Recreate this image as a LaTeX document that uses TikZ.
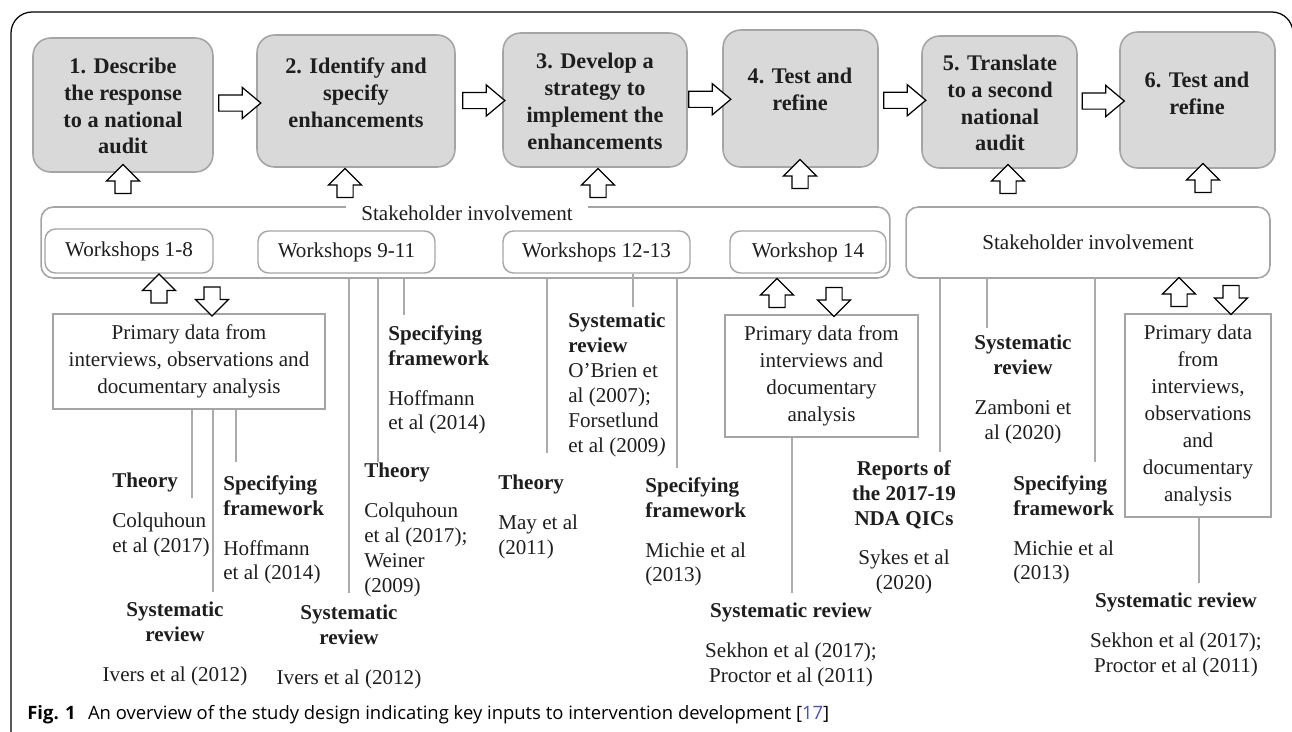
\documentclass[tikz,border=0pt]{standalone}
\usepackage{fontspec}
\setmainfont{Liberation Serif}
\newfontfamily\captionsans{Open Sans}
\usetikzlibrary{shapes.arrows,calc}

\definecolor{stepgray}{HTML}{D9D9D9}
\definecolor{edgegray}{HTML}{A5A5A5}
\definecolor{linegray}{HTML}{ABABAB}
\definecolor{ink}{HTML}{1E1E1E}
\definecolor{refblue}{HTML}{3F51D8}

\begin{document}
\begin{tikzpicture}[x=0.02cm,y=-0.02cm,
  stepbox/.style={draw=edgegray,fill=stepgray,rounded corners=10pt,line width=0.9pt},
  steptext/.style={font=\fontsize{12.7}{15.3}\selectfont\bfseries,align=center,text=ink},
  groupbox/.style={draw=edgegray,rounded corners=7pt,line width=0.9pt,fill=white,font=\fontsize{12}{14.2}\selectfont,text=ink},
  shopbox/.style={draw=edgegray,rounded corners=6pt,line width=0.8pt,fill=white,inner sep=0pt,font=\fontsize{12}{14.2}\selectfont,text=ink},
  databox/.style={draw=edgegray,line width=0.8pt,inner sep=0pt,align=center,font=\fontsize{12}{15.3}\selectfont,text=ink},
  source/.style={inner sep=0pt,font=\fontsize{12}{14.2}\selectfont,text=ink},
  link/.style={draw=linegray,line width=0.6pt},
  flowarrow/.style={single arrow,draw=black,fill=white,line width=0.7pt,minimum height=0.84cm,inner sep=0.15cm,single arrow head extend=0.15cm,single arrow tip angle=80},
  inarrow/.style={single arrow,draw=black,fill=white,line width=0.7pt,minimum height=0.58cm,inner sep=0.15cm,single arrow head extend=0.17cm,single arrow tip angle=90,shape border rotate=90},
  outarrow/.style={inarrow,shape border rotate=270}
]
\useasboundingbox (0,0) rectangle (1292,731);
\draw[black,line width=0.7pt,rounded corners=12pt] (11,745) -- (11,12) -- (1293,12) -- (1293,745);

% the six steps
\node[stepbox,minimum width=3.6cm,minimum height=2.68cm] (s1) at (123,105) {};
\node[stepbox,minimum width=3.96cm,minimum height=2.64cm] (s2) at (356,101) {};
\node[stepbox,minimum width=3.68cm,minimum height=2.68cm] (s3) at (595,100) {};
\node[stepbox,minimum width=3.1cm,minimum height=2.74cm] (s4) at (800.5,98.5) {};
\node[stepbox,minimum width=3.1cm,minimum height=2.64cm] (s5) at (999.5,102) {};
\node[stepbox,minimum width=3.1cm,minimum height=2.72cm] (s6) at (1197.5,100) {};
\node[steptext] (t1) at (123,106) {1. Describe\\the response\\to a national\\audit};
\node[steptext] (t2) at (356,92.5) {2. Identify and\\specify\\enhancements};
\node[steptext] (t3) at (595,101.5) {3. Develop a\\strategy to\\implement the\\enhancements};
\node[steptext] (t4) at (800,89.5) {4. Test and\\refine};
\node[steptext] (t5) at (1000,103) {5. Translate\\to a second\\national\\audit};
\node[steptext] (t6) at (1197,93.5) {6. Test and\\refine};

\node[flowarrow] (a12) at ($(s1.east)!0.5!(s2.west)$) {};
\node[flowarrow] (a23) at ($(s2.east)!0.5!(s3.west)$) {};
\node[flowarrow] (a34) at ($(s3.east)!0.5!(s4.west)$) {};
\node[flowarrow] (a45) at ($(s4.east)!0.5!(s5.west)$) {};
\node[flowarrow] (a56) at ($(s5.east)!0.5!(s6.west)$) {};

\node[inarrow] (u1) at (123,183) {};
\node[inarrow] (u2) at (345,187) {};
\node[inarrow] (u3) at (598,187) {};
\node[inarrow] (u4) at (800,178) {};
\node[inarrow] (u5) at (1008,183) {};
\node[inarrow] (u6) at (1203,182) {};

% stakeholder involvement
\node[groupbox,minimum width=16.98cm,minimum height=1.42cm] (sh1) at (465.5,242.5) {};
\node[fill=white,inner xsep=0.3cm,inner ysep=1pt,font=\fontsize{12}{14.2}\selectfont,text=ink] (sh1label) at (467,213) {Stakeholder involvement};
\node[shopbox,minimum width=3.36cm,minimum height=0.88cm] (w1) at (129,251) {Workshops 1-8};
\node[shopbox,minimum width=3.54cm,minimum height=0.84cm] (w2) at (346.5,252) {Workshops 9-11};
\node[shopbox,minimum width=3.74cm,minimum height=0.84cm] (w3) at (596.5,252) {Workshops 12-13};
\node[shopbox,minimum width=3.12cm,minimum height=0.84cm] (w4) at (808,252) {Workshop 14};
\node[groupbox,minimum width=7.28cm,minimum height=1.42cm] (sh2) at (1088,242.5) {Stakeholder involvement};

% primary data
\node[databox,minimum width=5.44cm,minimum height=1.9cm] (p1) at (189,361.5) {Primary data from\\interviews, observations and\\documentary analysis};
\node[databox,minimum width=3.86cm,minimum height=2.44cm] (p2) at (821.5,376) {Primary data from\\interviews and\\documentary\\analysis};
\node[databox,minimum width=2.92cm,minimum height=4.06cm] (p3) at (1198,415.5) {Primary data\\from\\interviews,\\observations\\and\\documentary\\analysis};
\node[inarrow] (pu1) at (159,292.5) {};
\node[outarrow] (pd1) at (212,297.5) {};
\node[inarrow] (pu2) at (777,297) {};
\node[outarrow] (pd2) at (834,298) {};
\node[inarrow] (pu3) at (1179,296) {};
\node[outarrow] (pd3) at (1231,296) {};

% inputs
\node[source,anchor=north west,align=left] (th1) at (112,473) {\textbf{Theory}\\[8.5pt]Colquhoun\\et al (2017)};
\node[source,anchor=north,align=center] (sr1) at (175,602) {\textbf{Systematic}\\\textbf{review}\\[8.5pt]Ivers et al (2012)};
\node[source,anchor=north west,align=left] (sf1) at (223,475) {\textbf{Specifying}\\\textbf{framework}\\[8.5pt]Hoffmann\\et al (2014)};
\node[source,anchor=north west,align=left] (sf2) at (388,325) {\textbf{Specifying}\\\textbf{framework}\\[8.5pt]Hoffmann\\et al (2014)};
\node[source,anchor=north west,align=left] (th2) at (364,463) {\textbf{Theory}\\[8.5pt]Colquhoun\\et al (2017);\\Weiner\\(2009)};
\node[source,anchor=north,align=center] (sr2) at (349,605) {\textbf{Systematic}\\\textbf{review}\\[8.5pt]Ivers et al (2012)};
\node[source,anchor=north west,align=left] (sr3) at (568,313) {\textbf{Systematic}\\\textbf{review}\\O’Brien et\\al (2007);\\Forsetlund\\et al (2009\textit{)}};
\node[source,anchor=north west,align=left] (th3) at (498,475) {\textbf{Theory}\\[8.5pt]May et al\\(2011)};
\node[source,anchor=north west,align=left] (sf3) at (645,477) {\textbf{Specifying}\\\textbf{framework}\\[8.5pt]Michie et al\\(2013)};
\node[source,anchor=north,align=center] (sr4) at (791,603) {\textbf{Systematic review}\\[8.5pt]Sekhon et al (2017);\\Proctor et al (2011)};
\node[source,anchor=north,align=center] (rp1) at (904,460) {\textbf{Reports of}\\\textbf{the 2017-19}\\\textbf{NDA QICs}\\[8.5pt]Sykes et al\\(2020)};
\node[source,anchor=north,align=center] (sr5) at (1023,335) {\textbf{Systematic}\\\textbf{review}\\[8.5pt]Zamboni et\\al (2020)};
\node[source,anchor=north west,align=left] (sf4) at (1013,475) {\textbf{Specifying}\\\textbf{framework}\\[8.5pt]Michie et al\\(2013)};
\node[source,anchor=north,align=center] (sr6) at (1176,593) {\textbf{Systematic review}\\[8.5pt]Sekhon et al (2017);\\Proctor et al (2011)};

% thin links
\coordinate (e1) at (192,498);
\coordinate (e2) at (213,592);
\coordinate (e3) at (236,462);
\coordinate (e4) at (349,593);
\coordinate (e5) at (378,462);
\coordinate (e6) at (404,315);
\coordinate (e7) at (547,453);
\coordinate (e8) at (633,307);
\coordinate (e9) at (677,468);
\coordinate (e10) at (792,593);
\coordinate (e11) at (940,452);
\coordinate (e12) at (987,328);
\coordinate (e13) at (1095,462);
\coordinate (e14) at (1199,583);
\draw[link] (p1.south -| e1) -- (e1);
\draw[link] (p1.south -| e2) -- (e2);
\draw[link] (p1.south -| e3) -- (e3);
\draw[link] (sh1.south -| e4) -- (e4);
\draw[link] (sh1.south -| e5) -- (e5);
\draw[link] (sh1.south -| e6) -- (e6);
\draw[link] (sh1.south -| e7) -- (e7);
\draw[link] (w3.south -| e8) -- (e8);
\draw[link] (sh1.south -| e9) -- (e9);
\draw[link] (p2.south -| e10) -- (e10);
\draw[link] (sh2.south -| e11) -- (e11);
\draw[link] (sh2.south -| e12) -- (e12);
\draw[link] (sh2.south -| e13) -- (e13);
\draw[link] (p3.south -| e14) -- (e14);

\node[anchor=base west,inner sep=0pt,font=\captionsans\fontsize{10.5}{12.5}\selectfont] (fig) at (27,719) {\textbf{Fig. 1}\hspace{7pt}An overview of the study design indicating key inputs to intervention development [\textcolor{refblue}{17}]};
\end{tikzpicture}
\end{document}
